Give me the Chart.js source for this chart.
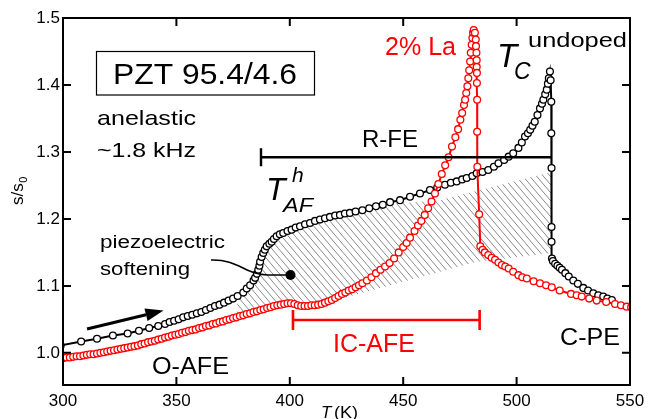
<!DOCTYPE html>
<html><head><meta charset="utf-8">
<script src="https://cdn.jsdelivr.net/npm/chart.js@4/dist/chart.umd.min.js"></script>
<style>html,body{margin:0;padding:0;background:#fff;overflow:hidden}canvas{display:block}</style>
</head><body>
<canvas id="c" width="657" height="419"></canvas>
<script>
const xTicks = [300, 350, 400, 450, 500, 550];
const yTicks = [1.0, 1.1, 1.2, 1.3, 1.4, 1.5];

// undoped PZT 95.4/4.6
const undopedT = [299,308,315,322,328.5,333.5,338,342,345,347,349,351,353,355,357,359,361,363,365,367,369,371,373,375,377,379.5,381,382.5,384,384.7,385.5,386.1,386.6,386.9,387.6,388.3,389,389.8,391,392,393,394.2,395.6,397.1,399,400.8,402.6,404.5,406.7,408.9,411.1,413.3,415.5,417.7,420,422.1,424.3,426.5,429,432,435,438,441,444.2,448.6,453,457.4,461.8,465,468.4,471,473.6,476,478,480.5,482.4,485,487.5,490,492,494.5,496.5,498.5,500.8,502.3,503.7,505,506,507,508,509.2,510.3,511.2,511.8,512.6,513.3,513.8,514.2,514.7,515.0,515.3,515.3,515.4,515.4,515.4,515.6,516,517,518,519,520,521.5,523,525,527,529.4,531.5,533.8,536,538.2,540,542];
const undopedS = [1.011,1.017,1.021,1.026,1.029,1.033,1.037,1.040,1.043,1.046,1.048,1.050,1.053,1.055,1.057,1.059,1.061,1.064,1.067,1.070,1.072,1.075,1.078,1.081,1.085,1.090,1.096,1.101,1.108,1.112,1.118,1.124,1.130,1.136,1.143,1.149,1.154,1.159,1.163,1.166,1.170,1.174,1.177,1.179,1.182,1.184,1.187,1.189,1.192,1.194,1.197,1.199,1.201,1.203,1.205,1.206,1.208,1.209,1.211,1.213,1.216,1.219,1.221,1.225,1.228,1.233,1.238,1.243,1.247,1.251,1.254,1.256,1.259,1.261,1.264,1.268,1.270,1.273,1.278,1.283,1.288,1.293,1.298,1.306,1.314,1.323,1.328,1.333,1.339,1.345,1.355,1.365,1.372,1.378,1.386,1.393,1.402,1.410,1.420,1.407,1.375,1.328,1.276,1.188,1.166,1.141,1.137,1.133,1.130,1.127,1.124,1.119,1.114,1.108,1.103,1.097,1.093,1.089,1.086,1.084,1.081,1.079];

// 2% La doped
const laT = [300,301.5,303,304.5,306,307.5,309,310.5,312,313.5,315,316.5,318,319.5,321,322.5,324,325.5,327,328.5,330,331.5,333,334.5,336,337.5,339,340.5,342,343.5,345,346.5,348,349.5,351,352.5,354,355.5,357,358.5,360,361.5,363,364.5,366,367.5,369,370.5,372,373.5,375,376.5,378,379.5,381,382.5,384,385.5,387,388.5,390,391.5,393,394.5,396,397.5,399,400.5,402,403.5,405,406.5,408,409.5,411,412.5,414,415.5,417,418.5,420,421.5,423,424.5,426,427.5,429,430.5,432,434,436,438,440,442,444,446,448,450,451.5,453,455,456.5,458,459.5,461,462.5,464,465.5,467,468.5,470,471.5,473,474.2,475.2,476,476.8,477.3,477.8,478.3,478.7,479.1,479.5,479.8,480.2,480.5,480.8,481.1,481.6,482.0,482.1,482.3,482.4,482.4,482.5,482.5,482.6,482.6,482.7,483.5,484.0,485,486,487.5,489,490.5,492,493.5,495,496.5,498.5,500.8,502.5,504.5,507.5,510.3,513,515.5,519,524,526.5,528.7,532,535.3,539.5,543.4,546,548.5,550.5];
const laS = [0.992,0.993,0.993,0.994,0.995,0.995,0.996,0.997,0.998,0.998,0.999,1.000,1.001,1.002,1.003,1.004,1.005,1.006,1.007,1.008,1.009,1.010,1.011,1.013,1.014,1.016,1.017,1.018,1.020,1.021,1.023,1.024,1.026,1.027,1.028,1.030,1.031,1.033,1.034,1.035,1.037,1.038,1.040,1.041,1.043,1.044,1.046,1.047,1.049,1.050,1.052,1.053,1.055,1.056,1.058,1.059,1.061,1.062,1.064,1.065,1.067,1.068,1.070,1.071,1.072,1.073,1.074,1.074,1.073,1.071,1.070,1.070,1.070,1.071,1.071,1.072,1.073,1.075,1.077,1.079,1.082,1.085,1.088,1.090,1.093,1.095,1.098,1.101,1.104,1.108,1.113,1.119,1.124,1.129,1.134,1.141,1.150,1.158,1.164,1.172,1.182,1.190,1.197,1.206,1.216,1.226,1.238,1.252,1.267,1.280,1.292,1.308,1.322,1.334,1.348,1.358,1.370,1.378,1.388,1.398,1.410,1.422,1.435,1.448,1.460,1.470,1.478,1.482,1.478,1.468,1.458,1.448,1.437,1.427,1.418,1.403,1.378,1.330,1.278,1.207,1.159,1.154,1.150,1.146,1.142,1.139,1.135,1.131,1.129,1.126,1.121,1.116,1.113,1.111,1.107,1.104,1.101,1.098,1.093,1.088,1.086,1.084,1.081,1.078,1.076,1.073,1.071,1.069,1.068];

// hatched "piezoelectric softening" region: corner points (T, s/s0)
const hatchStartT = 376.5, hatchBlackEndT = 441, hatchRedEndT = 414;
const hatchUpperExtraT = [466, 515.4], hatchUpperExtraS = [1.228, 1.270];
const hatchLowerExtraT = [515.4, 482.5], hatchLowerExtraS = [1.149, 1.136];

// phase bars (T range, level)
const rfeBar = [387.3, 515.4, 1.292];
const icafeBar = [401.4, 483.7, 1.049];

const FONT = '"Liberation Sans", Arial, Helvetica, sans-serif';

function drawText(ctx, s, x, y, size, color, opts) {
  opts = opts || {};
  ctx.save();
  ctx.font = (opts.italic ? 'italic ' : '') + size + 'px ' + FONT;
  ctx.fillStyle = color;
  ctx.textBaseline = 'alphabetic';
  ctx.textAlign = 'left';
  ctx.translate(x, y);
  if (opts.w) { const m = ctx.measureText(s).width; ctx.scale(opts.w / m, 1); }
  ctx.fillText(s, 0, 0);
  ctx.restore();
}

const hatchPlugin = {
  id: 'hatch',
  beforeDatasetsDraw(chart) {
    const ctx = chart.ctx, xs = chart.scales.x, ys = chart.scales.y;
    const pts = [];
    undopedT.forEach((t, i) => { if (t >= hatchStartT && t <= hatchBlackEndT) pts.push([t, undopedS[i]]); });
    hatchUpperExtraT.forEach((t, i) => pts.push([t, hatchUpperExtraS[i]]));
    hatchLowerExtraT.forEach((t, i) => pts.push([t, hatchLowerExtraS[i]]));
    const low = [];
    laT.forEach((t, i) => { if (t >= hatchStartT && t <= hatchRedEndT) low.push([t, laS[i]]); });
    low.reverse().forEach(p => pts.push(p));
    ctx.save();
    ctx.beginPath();
    pts.forEach((p, i) => {
      const px = xs.getPixelForValue(p[0]), py = ys.getPixelForValue(p[1]);
      if (i) ctx.lineTo(px, py); else ctx.moveTo(px, py);
    });
    ctx.closePath();
    ctx.clip();
    ctx.strokeStyle = '#8a8a8a';
    ctx.lineWidth = 1;
    for (let x0 = -300; x0 < 700; x0 += 6.8) {
      ctx.beginPath();
      ctx.moveTo(x0, 120);
      ctx.lineTo(x0 + 0.85 * 220, 340);
      ctx.stroke();
    }
    ctx.restore();
  }
};

const annotPlugin = {
  id: 'annot',
  afterDatasetsDraw(chart) {
    const ctx = chart.ctx, xs = chart.scales.x, ys = chart.scales.y;
    const a = chart.chartArea;
    ctx.save();
    // frame
    ctx.strokeStyle = '#000';
    ctx.lineWidth = 2;
    ctx.strokeRect(a.left, a.top, a.right - a.left, a.bottom - a.top);
    // inward ticks
    const tl = 8;
    xTicks.forEach(v => {
      const px = xs.getPixelForValue(v);
      ctx.beginPath();
      ctx.moveTo(px, a.bottom); ctx.lineTo(px, a.bottom - tl);
      ctx.moveTo(px, a.top); ctx.lineTo(px, a.top + tl);
      ctx.stroke();
    });
    yTicks.forEach(v => {
      const py = ys.getPixelForValue(v);
      ctx.beginPath();
      ctx.moveTo(a.left, py); ctx.lineTo(a.left + tl, py);
      ctx.moveTo(a.right, py); ctx.lineTo(a.right - tl, py);
      ctx.stroke();
    });

    // R-FE bar
    let x1 = xs.getPixelForValue(rfeBar[0]), x2 = xs.getPixelForValue(rfeBar[1]), yb = ys.getPixelForValue(rfeBar[2]);
    ctx.lineWidth = 2.4;
    ctx.beginPath();
    ctx.moveTo(x1, yb); ctx.lineTo(x2, yb);
    ctx.moveTo(x1, yb - 9); ctx.lineTo(x1, yb + 9);
    ctx.stroke();
    // IC-AFE bar
    x1 = xs.getPixelForValue(icafeBar[0]); x2 = xs.getPixelForValue(icafeBar[1]); yb = ys.getPixelForValue(icafeBar[2]);
    ctx.strokeStyle = '#ff0000';
    ctx.lineWidth = 2.6;
    ctx.beginPath();
    ctx.moveTo(x1, yb); ctx.lineTo(x2, yb);
    ctx.moveTo(x1, yb - 10); ctx.lineTo(x1, yb + 10);
    ctx.moveTo(x2, yb - 10); ctx.lineTo(x2, yb + 10);
    ctx.stroke();

    // arrow
    ctx.strokeStyle = '#000';
    ctx.fillStyle = '#000';
    ctx.lineWidth = 3;
    const ax0 = 87, ay0 = 329, ax1 = 163.5, ay1 = 310.5;
    const ang = Math.atan2(ay1 - ay0, ax1 - ax0);
    const hl = 18, hw = 6.5;
    const bx = ax1 - hl * Math.cos(ang), by = ay1 - hl * Math.sin(ang);
    ctx.beginPath(); ctx.moveTo(ax0, ay0); ctx.lineTo(bx, by); ctx.stroke();
    ctx.beginPath();
    ctx.moveTo(ax1, ay1);
    ctx.lineTo(bx + hw * Math.sin(ang), by - hw * Math.cos(ang));
    ctx.lineTo(bx - hw * Math.sin(ang), by + hw * Math.cos(ang));
    ctx.closePath(); ctx.fill();

    // leader line + dot
    ctx.lineWidth = 1.6;
    ctx.beginPath();
    ctx.moveTo(211, 260);
    ctx.bezierCurveTo(238, 259, 246, 275, 268, 275);
    ctx.lineTo(290, 275);
    ctx.stroke();
    ctx.beginPath(); ctx.arc(290.5, 275, 5, 0, Math.PI * 2); ctx.fill();

    // box
    ctx.lineWidth = 1.2;
    ctx.strokeRect(96.5, 51.5, 218, 43.5);
    ctx.restore();

    drawText(ctx, 'PZT 95.4/4.6', 113, 83.5, 30, '#000', { w: 184 });
    drawText(ctx, 'anelastic', 97, 125, 21, '#000', { w: 99 });
    drawText(ctx, '~1.8 kHz', 97, 157, 21, '#000', { w: 99 });
    drawText(ctx, '2% La', 385, 55, 25, '#ff0000', { w: 71 });
    drawText(ctx, 'T', 497, 67, 33, '#000', { italic: true });
    drawText(ctx, 'C', 514, 78.5, 23, '#000', { italic: true });
    drawText(ctx, 'undoped', 528, 47, 21, '#000', { w: 99 });
    drawText(ctx, 'R-FE', 362, 147, 24, '#000', { w: 56 });
    drawText(ctx, 'T', 266, 200, 32, '#000', { italic: true });
    drawText(ctx, 'h', 292, 182, 21, '#000', { italic: true });
    drawText(ctx, 'AF', 283, 212, 21, '#000', { italic: true, w: 30 });
    drawText(ctx, 'piezoelectric', 100, 248, 18, '#000', { w: 125 });
    drawText(ctx, 'softening', 100, 275, 18, '#000', { w: 90 });
    drawText(ctx, 'O-AFE', 152, 373.5, 23, '#000', { w: 77 });
    drawText(ctx, 'IC-AFE', 333, 351.5, 25, '#ff0000', { w: 82 });
    drawText(ctx, 'C-PE', 560, 345, 23, '#000', { w: 60 });

    // axis titles
    drawText(ctx, 'T', 321, 418, 17, '#000', { italic: true });
    drawText(ctx, '(K)', 334, 418, 17, '#000', { w: 24 });
    ctx.save();
    ctx.translate(23, 205);
    ctx.rotate(-Math.PI / 2);
    ctx.font = '17px ' + FONT;
    ctx.fillStyle = '#000';
    ctx.fillText('s/s', 0, 0);
    const w = ctx.measureText('s/s').width;
    ctx.font = '11px ' + FONT;
    ctx.fillText('0', w + 0.5, 4);
    ctx.restore();
  }
};

new Chart(document.getElementById('c'), {
  type: 'scatter',
  data: {
    datasets: [
      {
        label: '2% La',
        data: laT.map((t, i) => ({ x: t, y: laS[i] })),
        showLine: true,
        borderColor: '#ff0000',
        borderWidth: 2,
        pointRadius: 3.4,
        pointBorderWidth: 1.3,
        pointBackgroundColor: '#ffffff',
        pointBorderColor: '#ff0000',
        tension: 0
      },
      {
        label: 'undoped',
        data: undopedT.map((t, i) => ({ x: t, y: undopedS[i] })),
        showLine: true,
        borderColor: '#000000',
        borderWidth: 2,
        pointRadius: 3.4,
        pointBorderWidth: 1.3,
        pointBackgroundColor: '#ffffff',
        pointBorderColor: '#000000',
        tension: 0
      }
    ]
  },
  options: {
    responsive: false,
    animation: false,
    devicePixelRatio: 1,
    layout: { padding: { top: 18, right: 27, left: 0, bottom: 0 } },
    plugins: { legend: { display: false }, tooltip: { enabled: false } },
    scales: {
      x: {
        type: 'linear', min: 300, max: 550,
        grid: { display: false, drawTicks: false },
        border: { display: false },
        afterBuildTicks: s => { s.ticks = xTicks.map(v => ({ value: v })); },
        afterFit: s => { s.height = 34; },
        ticks: { color: '#000', font: { family: FONT, size: 17 }, padding: 6, maxRotation: 0, autoSkip: false,
          callback: v => String(v) }
      },
      y: {
        type: 'linear', min: 0.952, max: 1.5,
        grid: { display: false, drawTicks: false },
        border: { display: false },
        afterBuildTicks: s => { s.ticks = yTicks.map(v => ({ value: v })); },
        afterFit: s => { s.width = 63; },
        ticks: { color: '#000', font: { family: FONT, size: 17 }, padding: 3, autoSkip: false,
          callback: v => v.toFixed(1) }
      }
    }
  },
  plugins: [hatchPlugin, annotPlugin]
});
</script>
</body></html>
